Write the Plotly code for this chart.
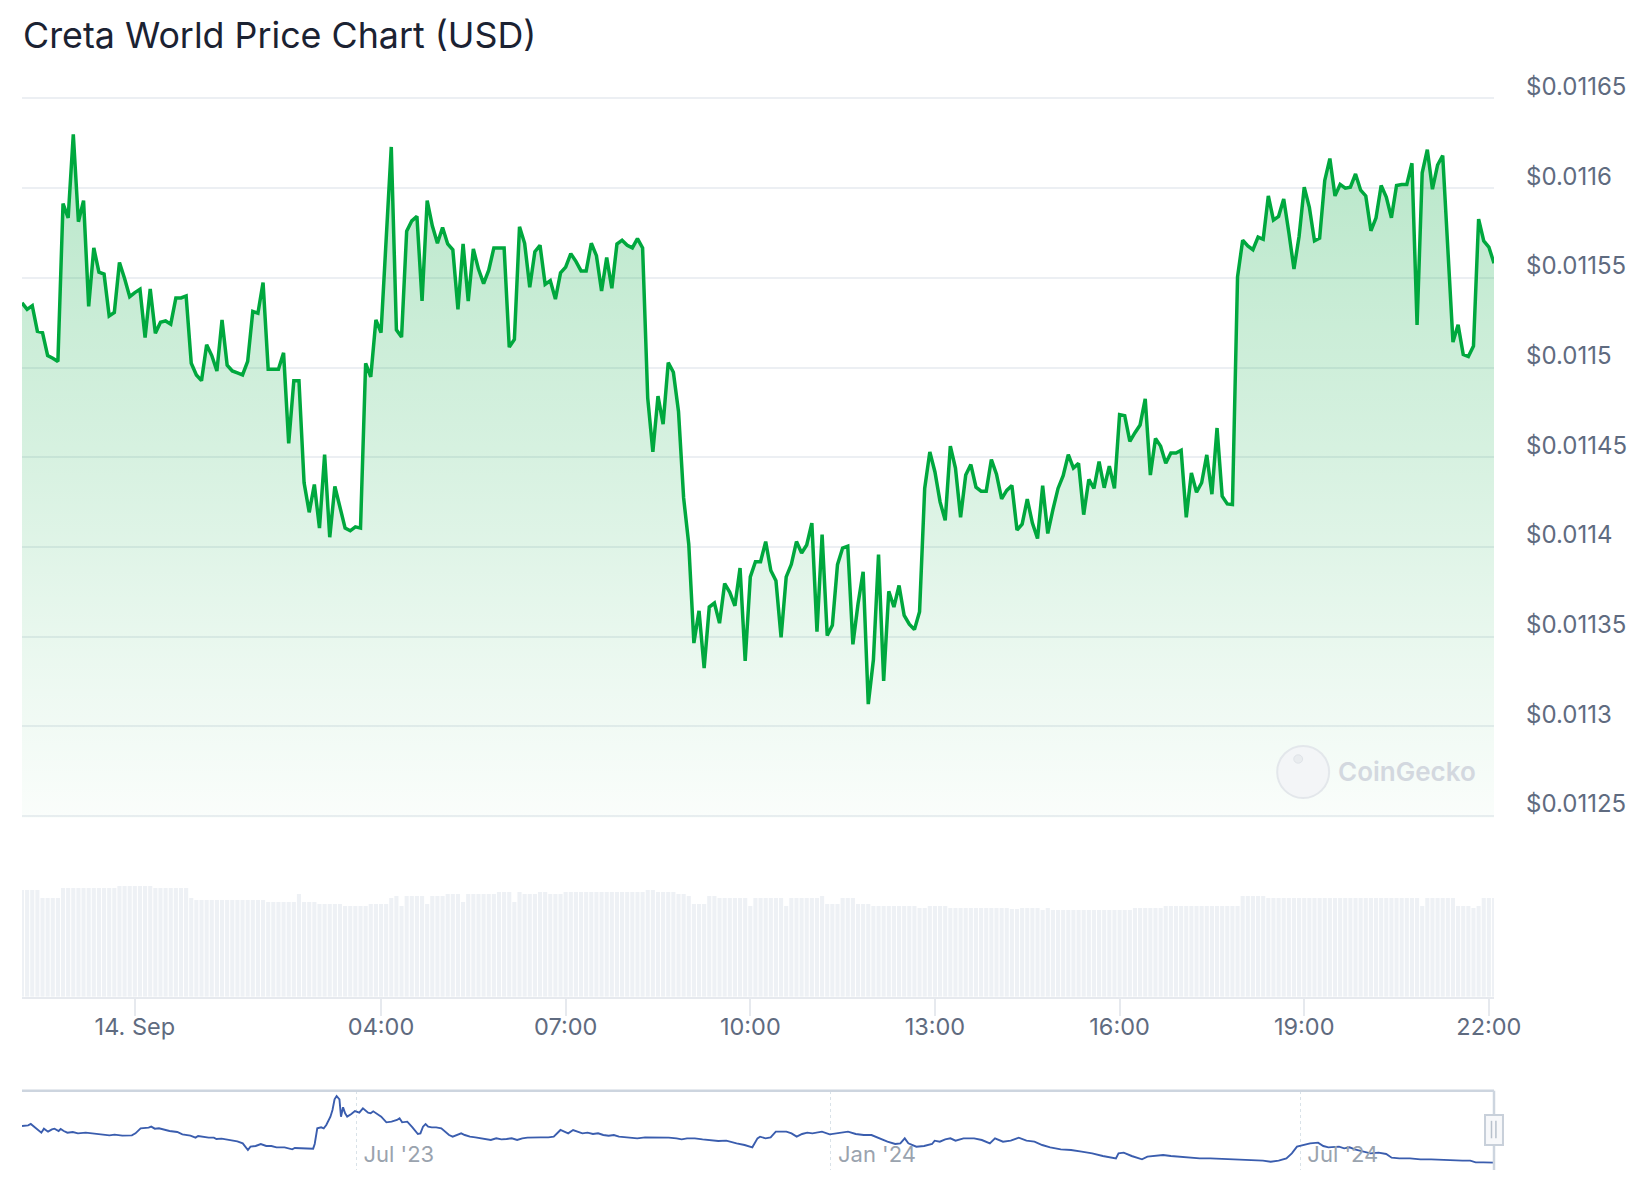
import pandas as pd
import plotly.graph_objects as go

title_text = "Creta World Price Chart (USD)"
start_time = "2024-09-13 22:10"
sample_minutes = 5

price_usd = [
    0.0115361, 0.0115324, 0.0115345, 0.0115202, 0.0115195, 0.0115067, 0.0115052, 0.0115034, 0.0115914, 0.0115835,
    0.0116300, 0.0115813, 0.0115931, 0.0115341, 0.0115667, 0.0115532, 0.0115521, 0.0115288, 0.0115307, 0.0115586,
    0.0115496, 0.0115395, 0.0115418, 0.0115436, 0.0115167, 0.0115438, 0.0115191, 0.0115253, 0.0115260, 0.0115242,
    0.0115388, 0.0115388, 0.0115399, 0.0115024, 0.0114959, 0.0114927, 0.0115127, 0.0115067, 0.0114981, 0.0115266,
    0.0115013, 0.0114981, 0.0114970, 0.0114959, 0.0115034, 0.0115313, 0.0115303, 0.0115474, 0.0114991, 0.0114991,
    0.0114991, 0.0115082, 0.0114577, 0.0114927, 0.0114927, 0.0114358, 0.0114193, 0.0114348,
    0.0114105, 0.0114515, 0.0114054, 0.0114337, 0.0114230, 0.0114105, 0.0114090, 0.0114112, 0.0114105, 0.0115024,
    0.0114948, 0.0115266, 0.0115195, 0.0115710, 0.0116230, 0.0115210, 0.0115170, 0.0115760, 0.0115818, 0.0115843,
    0.0115371, 0.0115931, 0.0115790, 0.0115693, 0.0115781, 0.0115689, 0.0115657, 0.0115324, 0.0115689, 0.0115371,
    0.0115661, 0.0115549, 0.0115468, 0.0115543, 0.0115667, 0.0115667, 0.0115667, 0.0115114, 0.0115157, 0.0115785,
    0.0115693, 0.0115448, 0.0115646, 0.0115682, 0.0115464, 0.0115485, 0.0115382, 0.0115528, 0.0115560, 0.0115635,
    0.0115592, 0.0115539, 0.0115539, 0.0115693, 0.0115624, 0.0115427, 0.0115614,
    0.0115442, 0.0115689, 0.0115710, 0.0115682, 0.0115667, 0.0115719, 0.0115667, 0.0114830, 0.0114530, 0.0114841,
    0.0114685, 0.0115028, 0.0114974, 0.0114755, 0.0114273, 0.0114015, 0.0113464, 0.0113644, 0.0113324, 0.0113665,
    0.0113687, 0.0113575, 0.0113796, 0.0113747, 0.0113672, 0.0113882, 0.0113365, 0.0113833, 0.0113918, 0.0113918,
    0.0114030, 0.0113869, 0.0113811, 0.0113496, 0.0113833, 0.0113903, 0.0114030, 0.0113966, 0.0114011, 0.0114133,
    0.0113528, 0.0114069, 0.0113506, 0.0113564, 0.0113901, 0.0113994, 0.0114004, 0.0113457, 0.0113682, 0.0113861,
    0.0113124, 0.0113371, 0.0113957, 0.0113253, 0.0113753, 0.0113665, 0.0113785, 0.0113618,
    0.0113569, 0.0113539, 0.0113639, 0.0114326, 0.0114530, 0.0114418, 0.0114251, 0.0114148, 0.0114562, 0.0114440,
    0.0114165, 0.0114401, 0.0114459, 0.0114333, 0.0114311, 0.0114311, 0.0114487, 0.0114406, 0.0114268, 0.0114315,
    0.0114343, 0.0114094, 0.0114127, 0.0114266, 0.0114133, 0.0114047, 0.0114341, 0.0114075, 0.0114208, 0.0114326,
    0.0114397, 0.0114515, 0.0114440, 0.0114466, 0.0114180, 0.0114376, 0.0114326, 0.0114476, 0.0114330, 0.0114451,
    0.0114326, 0.0114738, 0.0114732, 0.0114588, 0.0114637, 0.0114680, 0.0114826, 0.0114401, 0.0114605, 0.0114562,
    0.0114466, 0.0114524, 0.0114524, 0.0114539, 0.0114165, 0.0114412, 0.0114305,
    0.0114358, 0.0114513, 0.0114294, 0.0114663, 0.0114283, 0.0114240, 0.0114236,
    0.0115506, 0.0115710, 0.0115678, 0.0115657, 0.0115727, 0.0115715, 0.0115957, 0.0115822, 0.0115843, 0.0115940,
    0.0115753, 0.0115549, 0.0115732, 0.0116006, 0.0115893, 0.0115706, 0.0115721, 0.0116043, 0.0116165, 0.0115957,
    0.0116021, 0.0116000, 0.0116006, 0.0116079, 0.0115989, 0.0115957, 0.0115762, 0.0115835, 0.0116015, 0.0115951,
    0.0115835, 0.0116015, 0.0116021, 0.0116021, 0.0116139, 0.0115238, 0.0116086, 0.0116215, 0.0115994, 0.0116129,
    0.0116182, 0.0115646, 0.0115142, 0.0115238, 0.0115073, 0.0115062, 0.0115120, 0.0115828, 0.0115706, 0.0115672,
    0.0115582,
]

volume_k_usd = [
    53.3, 53.3, 53.3, 53.3, 49.3, 49.3, 49.3, 49.3,
    54.3, 54.3, 54.3, 54.3, 54.3, 54.3, 54.3, 54.3, 54.3, 54.3, 54.3,
    55.3, 55.3, 55.3, 55.3, 55.3, 55.3, 55.3,
    54.3, 54.3, 54.3, 54.3, 54.3, 54.3, 54.3,
    49.3,
    48.3, 48.3, 48.3, 48.3, 48.3, 48.3, 48.3, 48.3, 48.3, 48.3, 48.3, 48.3, 48.3, 48.3,
    47.3, 47.3, 47.3, 47.3, 47.3, 47.3,
    51.3,
    47.3, 47.3, 47.3,
    46.3, 46.3, 46.3, 46.3, 46.3,
    45.3, 45.3, 45.3, 45.3, 45.3,
    46.3, 46.3, 46.3, 46.3,
    49.3, 50.3, 45.3,
    50.3, 50.3, 50.3, 50.3,
    46.3,
    50.3, 50.3, 50.3,
    51.3, 51.3, 51.3,
    47.3,
    51.3, 51.3, 51.3, 51.3, 51.3, 51.3,
    52.3, 52.3, 52.3,
    47.3, 52.3,
    51.3, 51.3, 51.3,
    52.3, 52.3,
    51.3, 51.3, 51.3,
    52.3, 52.3, 52.3, 52.3, 52.3, 52.3, 52.3, 52.3, 52.3, 52.3, 52.3, 52.3, 52.3, 52.3, 52.3, 52.3,
    53.3, 53.3,
    52.3, 52.3, 52.3, 52.3,
    51.3, 51.3,
    50.3,
    46.3, 46.3, 46.3,
    50.3, 50.3,
    49.3, 49.3, 49.3, 49.3, 49.3, 49.3,
    45.3,
    49.3, 49.3, 49.3, 49.3, 49.3, 49.3,
    45.3,
    49.3, 49.3, 49.3, 49.3, 49.3, 49.3,
    50.3,
    46.3, 46.3, 46.3,
    49.3, 49.3, 49.3,
    46.3, 46.3, 46.3,
    45.3, 45.3, 45.3, 45.3, 45.3, 45.3, 45.3, 45.3, 45.3,
    44.3, 44.3,
    45.3, 45.3, 45.3, 45.3,
    44.3, 44.3, 44.3, 44.3, 44.3, 44.3, 44.3, 44.3, 44.3, 44.3, 44.3, 44.3,
    43.8, 43.8,
    44.3, 44.3, 44.3, 44.3,
    43.3, 44.3,
    43.3, 43.3, 43.3, 43.3, 43.3, 43.3, 43.3, 43.3, 43.3, 43.3, 43.3, 43.3, 43.3, 43.3, 43.3, 43.3,
    44.3, 44.3, 44.3, 44.3, 44.3, 44.3,
    45.3, 45.3, 45.3, 45.3, 45.3, 45.3, 45.3, 45.3, 45.3, 45.3, 45.3, 45.3, 45.3, 45.3, 45.3,
    50.3, 50.3, 50.3, 50.3, 50.3,
    49.3, 49.3, 49.3, 49.3, 49.3, 49.3, 49.3, 49.3, 49.3, 49.3,
    49.3, 49.3, 49.3, 49.3, 49.3, 49.3, 49.3, 49.3, 49.3, 49.3,
    49.3, 49.3, 49.3, 49.3, 49.3, 49.3, 49.3, 49.3, 49.3, 49.3,
    45.3,
    49.3, 49.3, 49.3, 49.3, 49.3, 49.3,
    45.3, 45.3, 45.3,
    44.3, 45.3,
    49.3, 49.3, 49.3,
]

price_tick_vals = [0.01125, 0.0113, 0.01135, 0.0114, 0.01145, 0.0115, 0.01155, 0.0116, 0.01165]
price_tick_text = ["$0.01125", "$0.0113", "$0.01135", "$0.0114", "$0.01145",
                   "$0.0115", "$0.01155", "$0.0116", "$0.01165"]
price_range = [0.011249, 0.011651]

time_tick_vals = ["2024-09-14 00:00", "2024-09-14 04:00", "2024-09-14 07:00", "2024-09-14 10:00",
                  "2024-09-14 13:00", "2024-09-14 16:00", "2024-09-14 19:00", "2024-09-14 22:00"]
time_tick_text = ["14. Sep", "04:00", "07:00", "10:00", "13:00", "16:00", "19:00", "22:00"]

nav_origin = "2023-07-01"
nav_days = [
    -129.7, -127.3, -126.3, -124.8, -123.2, -122.2, -121.2, -119.6, -118.1, -117.1,
    -115.5, -114.7, -113.5, -112.1, -110.0, -108.0, -105.0, -101.9, -98.9, -95.8,
    -93.8, -90.8, -87.1, -85.7, -83.7, -80.6, -79.6, -78.2, -76.6, -74.6,
    -72.5, -69.5, -67.5, -64.4, -62.4, -61.4, -59.4, -57.3, -55.3, -54.3,
    -52.3, -49.2, -46.2, -44.1, -43.1, -42.1, -41.1, -39.1, -37.1, -35.0,
    -33.0, -31.0, -27.9, -24.9, -23.9, -20.8, -16.8, -16.2, -15.2, -13.7,
    -12.7, -11.7, -10.1, -9.3, -8.5, -7.7, -6.6, -6.0, -5.2, -4.4,
    -3.6, -2.0, -0.6, 1.1, 2.5, 4.5, 5.5, 6.5, 8.2, 9.6,
    11.6, 13.6, 15.7, 16.7, 17.7, 19.7, 21.7, 23.8, 24.8, 25.8,
    26.8, 27.8, 29.2, 30.9, 32.9, 34.5, 35.9, 37.3, 39.0, 40.6,
    42.0, 44.0, 46.1, 48.1, 50.1, 52.1, 54.2, 56.2, 58.2, 60.2,
    62.3, 64.3, 66.3, 68.4, 71.4, 74.4, 76.5, 79.1, 80.5, 82.1,
    84.0, 85.6, 87.6, 89.6, 91.7, 93.7, 95.7, 97.8, 99.8, 101.8,
    103.8, 105.9, 108.9, 111.9, 115.0, 118.0, 121.1, 124.1, 126.1, 128.2,
    131.2, 134.2, 137.3, 140.3, 143.4, 145.4, 147.4, 150.5, 153.5, 155.5,
    156.5, 158.6, 160.6, 162.6, 164.6, 166.7, 168.7, 170.7, 172.8, 174.8,
    176.8, 180.5,
    183.5, 186.5, 190.6, 193.6, 196.7, 199.7, 202.8, 205.9, 208.9, 210.9,
    212.6, 214.0, 217.1, 220.1, 223.2, 224.2, 226.2, 228.3, 230.3, 232.3,
    235.4, 239.5, 242.5, 245.6, 247.6, 250.7, 253.7, 256.8, 259.8, 262.9,
    265.9, 269.0, 273.1, 277.1, 281.2, 285.3, 289.4, 292.4, 294.5, 295.5,
    297.5, 300.6, 302.6, 304.6, 306.7, 309.7, 312.8, 315.8, 318.9, 323.0,
    327.0, 331.1, 335.2, 339.3, 343.3, 347.4, 351.5, 354.5, 357.6, 360.6,
    362.7, 364.7, 366.8, 369.8, 372.9, 374.9, 376.9, 379.0, 381.0, 383.0,
    385.1, 387.1, 390.2, 393.2, 396.3, 399.3, 401.4, 404.4, 408.5, 412.6,
    416.7, 420.7, 424.8, 428.9, 431.9, 434.0, 437.0, 441.1,
]
nav_price_usd = [
    0.03829, 0.03878, 0.03975, 0.03732, 0.03488, 0.03342, 0.03634, 0.03415, 0.03586, 0.03634,
    0.03464, 0.03610, 0.03464, 0.03342, 0.03391, 0.03294, 0.03342, 0.03269, 0.03221, 0.03148,
    0.03196, 0.03123, 0.03148, 0.03294, 0.03659, 0.03707, 0.03780, 0.03634, 0.03659, 0.03537,
    0.03464, 0.03391, 0.03221, 0.03123, 0.02977, 0.03099, 0.03026, 0.02977, 0.02977, 0.02880,
    0.02904, 0.02807, 0.02710, 0.02564, 0.02272, 0.02077, 0.02320, 0.02369, 0.02515, 0.02369,
    0.02369, 0.02272, 0.02272, 0.02126, 0.02223, 0.02199, 0.02174, 0.02515, 0.03659, 0.03732,
    0.03659, 0.03902, 0.04510, 0.04997, 0.05776, 0.06019, 0.05776, 0.04510, 0.05192, 0.04754,
    0.04510, 0.04705, 0.04924, 0.04802, 0.05119, 0.04802, 0.04754, 0.04900, 0.04681, 0.04510,
    0.04097, 0.04145, 0.04267, 0.04389, 0.04097, 0.04145, 0.03732, 0.03245, 0.03294, 0.03780,
    0.03975, 0.03780, 0.03732, 0.03732, 0.03659, 0.03415, 0.03172, 0.03050, 0.03172, 0.03294,
    0.03172, 0.03050, 0.03002, 0.02929, 0.02904, 0.02807, 0.02929, 0.02856, 0.02880, 0.02929,
    0.02807, 0.02929, 0.02977, 0.03002, 0.03002, 0.03002, 0.03050, 0.03537, 0.03415, 0.03294,
    0.03537, 0.03415, 0.03294, 0.03342, 0.03245, 0.03294, 0.03172, 0.03123, 0.03172, 0.03050,
    0.03002, 0.02977, 0.02929, 0.03002, 0.03002, 0.02977, 0.02977, 0.02929, 0.02856, 0.02929,
    0.02929, 0.02856, 0.02807, 0.02734, 0.02758, 0.02685, 0.02564, 0.02442, 0.02272, 0.02929,
    0.03050, 0.02929, 0.03002, 0.03415, 0.03391, 0.03415, 0.03294, 0.03050, 0.03245, 0.03342,
    0.03294, 0.03415,
    0.03221, 0.03294, 0.03415, 0.03245, 0.03172, 0.03172, 0.02929, 0.02685, 0.02515, 0.02564,
    0.02929, 0.02564, 0.02320, 0.02369, 0.02515, 0.02758, 0.02685, 0.02856, 0.02929, 0.02758,
    0.02929, 0.02929, 0.02807, 0.02564, 0.02929, 0.02685, 0.02758, 0.02977, 0.02758, 0.02685,
    0.02442, 0.02272, 0.02126, 0.02077, 0.01955, 0.01834, 0.01639, 0.01542, 0.01469, 0.01834,
    0.01882, 0.01639, 0.01542, 0.01396, 0.01590, 0.01639, 0.01712, 0.01639, 0.01590, 0.01542,
    0.01469, 0.01469, 0.01444, 0.01396, 0.01396, 0.01347, 0.01298, 0.01225, 0.01298, 0.01469,
    0.01834, 0.02320, 0.02442, 0.02564, 0.02612, 0.02369, 0.02272, 0.02272, 0.02320, 0.02199,
    0.02272, 0.02126, 0.01955, 0.01834, 0.01882, 0.01785, 0.01517, 0.01469, 0.01469, 0.01396,
    0.01396, 0.01347, 0.01347, 0.01298, 0.01298, 0.01177, 0.01177, 0.01152,
]
nav_tick_vals = ["2023-07-01", "2024-01-01", "2024-07-01"]
nav_tick_text = ["Jul '23", "Jan '24", "Jul '24"]
nav_range = [0.00617, 0.06406]

times = pd.date_range(start_time, periods=len(price_usd), freq=f"{sample_minutes}min")
nav_dates = pd.Timestamp(nav_origin) + pd.to_timedelta(nav_days, unit="D")

FONT = "Inter, 'Noto Sans', sans-serif"
GREEN = "#00a83e"
LABEL = "#5f6b80"
H = 1200.0

fig = go.Figure()
fig.add_trace(go.Bar(
    x=times, y=volume_k_usd, xaxis="x", yaxis="y2",
    marker=dict(color="#eef1f5", line=dict(width=0)),
    width=sample_minutes * 60 * 1000 * 0.8, hoverinfo="skip",
))
fig.add_trace(go.Scatter(
    x=times, y=price_usd, xaxis="x", yaxis="y", mode="lines",
    line=dict(color=GREEN, width=3.5),
    fill="tozeroy",
    fillgradient=dict(type="vertical",
                      colorscale=[[0, "rgba(0,168,62,0.02)"], [1, "rgba(0,168,62,0.28)"]],
                      start=0.01125, stop=max(price_usd)),
    hoverinfo="skip",
))
fig.add_trace(go.Scatter(
    x=nav_dates, y=nav_price_usd, xaxis="x2", yaxis="y3", mode="lines",
    line=dict(color="#3a5dae", width=1.9), hoverinfo="skip",
))

fig.update_layout(
    width=1644, height=1200,
    margin=dict(l=22, r=150, t=0, b=0, pad=0, autoexpand=False),
    paper_bgcolor="white", plot_bgcolor="white",
    showlegend=False, hovermode=False,
    font=dict(family=FONT, color=LABEL),
    xaxis=dict(
        domain=[0, 1], anchor="y2", type="date", automargin=False,
        range=[times[0], times[-1]],
        tickvals=time_tick_vals, ticktext=time_tick_text,
        ticks="outside", ticklen=18, tickwidth=1.5, tickcolor="#e6e9ee",
        showline=True, linecolor="#e6e9ee", linewidth=1.5,
        showgrid=False, zeroline=False, ticklabelstandoff=-10,
        tickfont=dict(size=23.5, color=LABEL, family=FONT),
    ),
    yaxis=dict(
        domain=[1 - 817.8 / H, 1 - 96.7 / H], anchor="x", side="right", automargin=False,
        range=price_range, tickvals=price_tick_vals, ticktext=price_tick_text,
        showgrid=True, gridcolor="#eceff3", gridwidth=1.5, zeroline=False,
        showline=False, ticks="",
        ticklabelstandoff=31, ticklabelshift=-12,
        tickfont=dict(size=24, color=LABEL, family=FONT),
    ),
    yaxis2=dict(
        domain=[1 - 996.7 / H, 1 - 886 / H], anchor="x", automargin=False,
        range=[0, 55.35], visible=False,
    ),
    xaxis2=dict(
        domain=[0, 1], anchor="y3", type="date", automargin=False,
        range=[nav_dates[0], nav_dates[-1]],
        tickvals=nav_tick_vals, ticktext=nav_tick_text,
        showgrid=True, gridcolor="#d9e2e8", griddash="dot", gridwidth=1,
        ticks="", showline=False, zeroline=False,
        ticklabelposition="inside right", ticklabelshift=7, ticklabelstandoff=-2,
        tickfont=dict(size=22, color="#9aa3ae", family=FONT),
    ),
    yaxis3=dict(
        domain=[1 - 1170 / H, 1 - 1090.7 / H], anchor="x2", automargin=False,
        range=nav_range, visible=False,
    ),
)

# Title
fig.add_annotation(
    text=title_text, xref="paper", yref="paper",
    x=-1 / 1472, y=1 - 34.6 / H, xanchor="left", yanchor="middle",
    showarrow=False, font=dict(size=35.8, color="#1b2232", family=FONT),
)

# CoinGecko watermark
fig.add_shape(type="circle", xref="paper", yref="paper",
              x0=0.8527, x1=0.8880, y0=0.3350, y1=0.3784,
              fillcolor="#f3f5f7", line=dict(color="#e3e7eb", width=2), layer="above")
fig.add_shape(type="circle", xref="paper", yref="paper",
              x0=0.8640, x1=0.8700, y0=0.3640, y1=0.3710,
              fillcolor="#e9ecef", line=dict(color="#dfe3e8", width=1), layer="above")
fig.add_annotation(
    text="CoinGecko", xref="paper", yref="paper", x=0.9409, y=0.3571,
    xanchor="center", yanchor="middle", showarrow=False,
    font=dict(size=26, color="#d3d8df", family=FONT, weight=600),
)

# Navigator outline and handle
fig.add_shape(type="line", xref="x2 domain", yref="y3 domain", x0=0, x1=1, y0=1, y1=1,
              line=dict(color="#cdd5df", width=2.5))
fig.add_shape(type="line", xref="x2 domain", yref="y3 domain", x0=1, x1=1, y0=0, y1=1,
              line=dict(color="#cdd5df", width=2.5))
fig.add_shape(type="rect", xref="x2 domain", yref="y3 domain", x0=0.9939, x1=1.0061, y0=0.315, y1=0.694,
              fillcolor="#f7f8fa", line=dict(color="#c8d0da", width=2))
fig.add_shape(type="line", xref="x2 domain", yref="y3 domain", x0=0.9983, x1=0.9983, y0=0.40, y1=0.62,
              line=dict(color="#b8c1cc", width=1.5))
fig.add_shape(type="line", xref="x2 domain", yref="y3 domain", x0=1.0013, x1=1.0013, y0=0.40, y1=0.62,
              line=dict(color="#b8c1cc", width=1.5))

fig.write_html(
    "out.html",
    config={"displayModeBar": False},
    post_script="document.body.style.margin='0';document.body.style.overflow='hidden';",
)
